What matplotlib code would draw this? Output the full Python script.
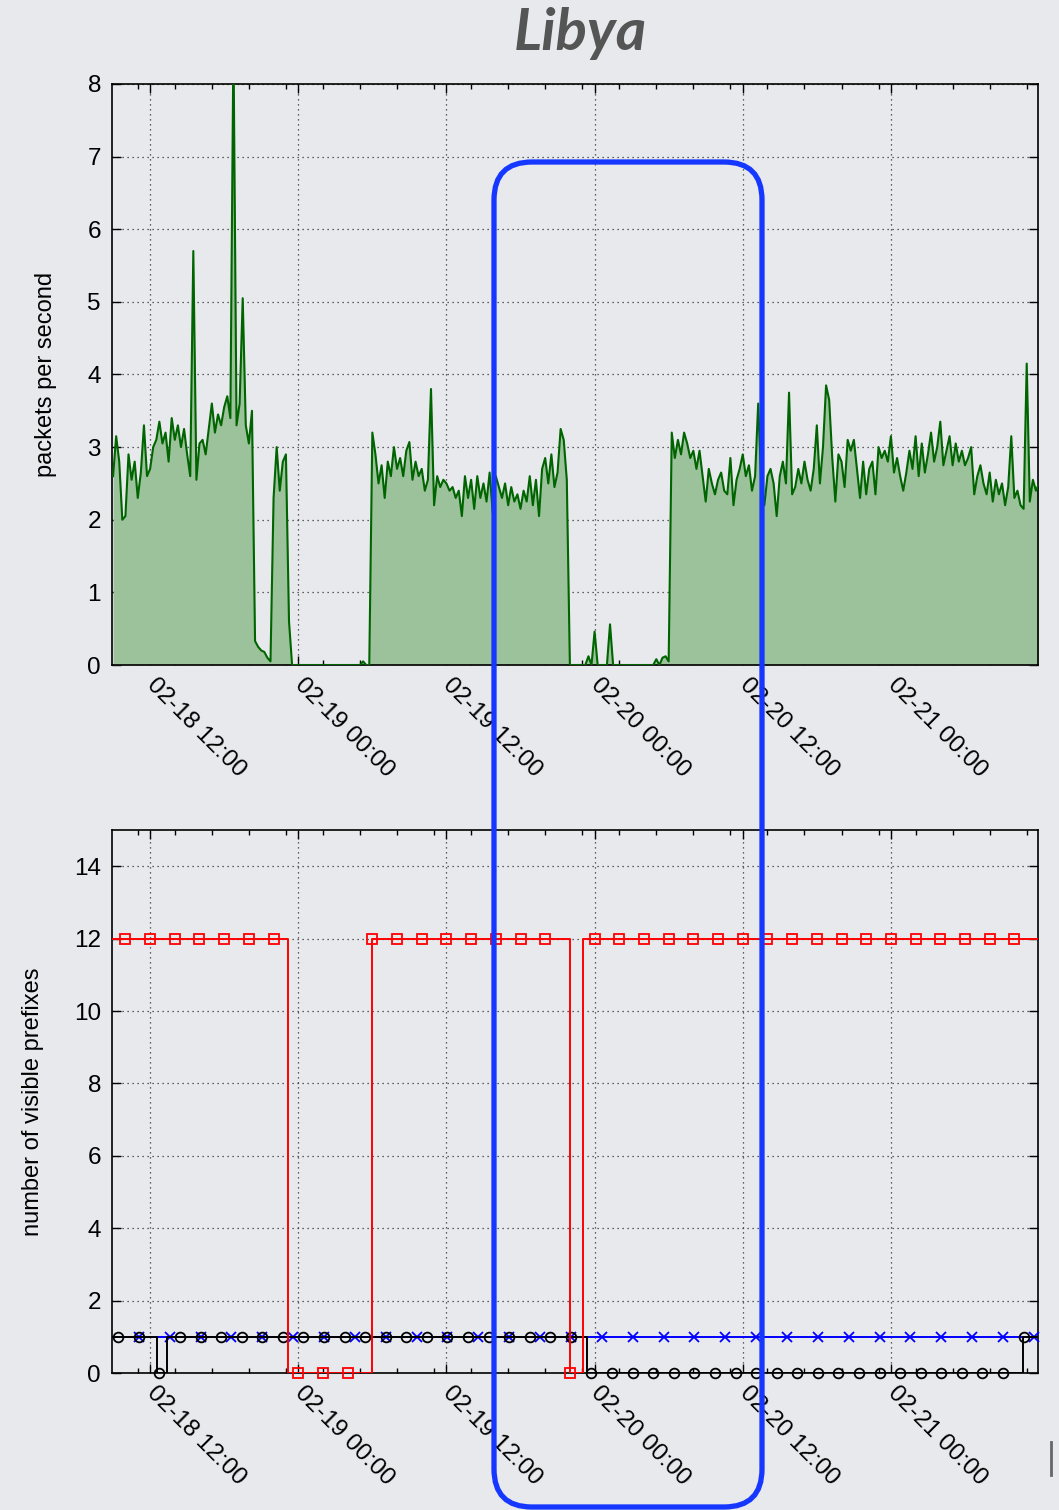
import numpy as np
import pandas as pd
import matplotlib
matplotlib.use('Agg')
import matplotlib.pyplot as plt
import matplotlib.dates as mdates
from matplotlib.patches import FancyBboxPatch
from matplotlib.lines import Line2D
from matplotlib.transforms import Affine2D

# --- packets per second, 15 minute samples, one list per period ---
PPS_FREQ = '15min'

pps_0218_day_start = '2011-02-18 09:00'
pps_0218_day = [2.6, 3.15, 2.8, 2.0, 2.05, 2.9, 2.55, 2.8, 2.3, 2.65,
                3.3, 2.6, 2.7, 3.0, 3.1, 3.35, 3.05, 3.2, 2.8, 3.4,
                3.1, 3.3, 3.0, 3.25, 2.9, 2.6, 5.7, 2.55, 3.05, 3.1,
                2.9, 3.25, 3.6, 3.2, 3.45, 3.3, 3.55, 3.7, 3.4, 8.6,
                3.3, 3.6, 5.05, 3.3, 3.05, 3.5]

pps_0218_evening_start = '2011-02-18 20:30'
pps_0218_evening = [0.33, 0.25, 0.2, 0.18, 0.1, 0.05, 2.3, 3.0, 2.4, 2.8,
                    2.9, 0.6, 0.0]

pps_0219_night_start = '2011-02-18 23:45'
pps_0219_night = [0.0, 0.0, 0.0, 0.0, 0.0, 0.0, 0.0, 0.0, 0.0, 0.0,
                  0.0, 0.0, 0.0, 0.0, 0.0, 0.0, 0.0, 0.0, 0.0, 0.0,
                  0.0, 0.0, 0.05, 0.0, 0.0]

pps_0219_day_start = '2011-02-19 06:00'
pps_0219_day = [3.2, 2.9, 2.5, 2.75, 2.3, 2.8, 2.6, 3.0, 2.7, 2.85,
                2.6, 2.95, 3.07, 2.55, 2.8, 2.6, 2.7, 2.4, 2.55, 3.8,
                2.2, 2.6, 2.45, 2.55, 2.5, 2.4, 2.45, 2.3, 2.4, 2.05,
                2.6, 2.3, 2.55, 2.15, 2.6, 2.3, 2.5, 2.25, 2.65, 2.1,
                2.6, 2.45, 2.3, 2.5, 2.2, 2.45, 2.25, 2.35, 2.15, 2.4,
                2.25, 2.6, 2.2, 2.55, 2.05, 2.7, 2.85, 2.5, 2.9, 2.45,
                2.65, 3.25, 3.1, 2.55]

pps_0220_night_start = '2011-02-19 22:00'
pps_0220_night = [0.0, 0.0, 0.0, 0.0, 0.0, 0.0, 0.12, 0.0, 0.46, 0.0,
                  0.0, 0.0, 0.0, 0.56, 0.0, 0.0, 0.0, 0.0, 0.0, 0.0,
                  0.0, 0.0, 0.0, 0.0, 0.0, 0.0, 0.0, 0.0, 0.08, 0.0,
                  0.1, 0.12, 0.05]

pps_0220_day_start = '2011-02-20 06:15'
pps_0220_day = [3.2, 2.85, 3.1, 2.9, 3.2, 3.05, 2.85, 2.95, 2.7, 2.95,
                2.6, 2.25, 2.7, 2.5, 2.35, 2.55, 2.65, 2.4, 2.35, 2.85,
                2.2, 2.55, 2.7, 2.9, 2.6, 2.75, 2.4, 2.6, 3.6, 2.5,
                2.2, 2.6, 2.7, 2.5, 2.05, 2.6, 2.8, 2.5, 3.75, 2.35,
                2.45, 2.7, 2.5, 2.8, 2.55, 2.4, 2.7, 3.3, 2.5, 3.0,
                3.85, 3.65, 2.85, 2.25, 2.9, 2.8, 2.45, 3.1, 2.95, 3.1,
                2.7, 2.3, 2.8, 2.35, 2.7, 2.8, 2.35, 3.0, 2.85, 2.95,
                2.8, 3.15, 2.65, 2.85, 2.6, 2.4, 2.65, 2.95, 2.7, 3.15,
                2.6, 3.05, 2.65, 2.9, 3.2, 2.8, 3.0, 3.35, 2.75, 2.95,
                3.15, 2.75, 3.05, 2.8, 2.95, 2.75, 2.85, 3.0, 2.35, 2.6,
                2.75, 2.5, 2.35, 2.65, 2.25, 2.55, 2.35, 2.5, 2.2, 2.45,
                3.15, 2.3, 2.4, 2.2, 2.15, 4.15, 2.25, 2.55, 2.4, 2.5]

# --- visible prefixes: level changes per series ---
x_start = '2011-02-18 08:55'
x_end = '2011-02-21 11:55'

red_change_times = ['2011-02-18 08:55', '2011-02-18 23:10', '2011-02-19 06:00',
                    '2011-02-19 22:00', '2011-02-19 23:05']
red_levels = [12, 0, 12, 0, 12]
red_marks_start = '2011-02-18 10:00'
red_marks_every = '120min'

black_change_times = ['2011-02-18 08:55', '2011-02-18 12:34', '2011-02-18 13:22',
                      '2011-02-19 23:21', '2011-02-21 10:40']
black_levels = [1, 0, 1, 0, 1]
black_marks_start = '2011-02-18 09:25'
black_marks_every = '100min'

blue_change_times = ['2011-02-18 08:55']
blue_levels = [1]
blue_marks_start = '2011-02-18 11:05'
blue_marks_every = '150min'

GRID = dict(color='#333333', linestyle=(0, (1, 3)), linewidth=0.9)


def pps_series():
    """Join the packet rate blocks into one time series"""
    blocks = [(pps_0218_day_start, pps_0218_day),
              (pps_0218_evening_start, pps_0218_evening),
              (pps_0219_night_start, pps_0219_night),
              (pps_0219_day_start, pps_0219_day),
              (pps_0220_night_start, pps_0220_night),
              (pps_0220_day_start, pps_0220_day)]
    times = []
    values = []
    for start, vals in blocks:
        times.extend(pd.date_range(start, periods=len(vals), freq=PPS_FREQ))
        values.extend(vals)
    return pd.DatetimeIndex(times), np.array(values)


def draw_steps(ax, change_times, levels, marks_start, marks_every,
               color, marker, msize, z):
    """Draw a stepped series plus its sparse markers"""
    changes = pd.DatetimeIndex(pd.to_datetime(change_times))
    edges = changes.append(pd.DatetimeIndex([pd.Timestamp(x_end)]))
    vals = list(levels) + [levels[-1]]
    ax.step(edges, vals, where='post', color=color, lw=1.4, zorder=z)

    marks = pd.date_range(marks_start, x_end, freq=marks_every)
    idx = changes.searchsorted(marks, side='right') - 1
    mark_vals = np.asarray(levels)[idx]
    ax.plot(marks, mark_vals, linestyle='none', marker=marker, ms=msize,
            mfc='none', mec=color, mew=1.3, clip_on=False, zorder=z + 0.5)


def style_axes(ax):
    """gnuplot-like frame, inward ticks and dotted grid"""
    ax.set_facecolor('none')
    for sp in ax.spines.values():
        sp.set_linewidth(1.2)
    ax.set_xlim(pd.Timestamp(x_start), pd.Timestamp(x_end))
    ax.xaxis.set_major_locator(mdates.HourLocator(byhour=[0, 12]))
    ax.xaxis.set_minor_locator(mdates.HourLocator(interval=3))
    ax.xaxis.set_major_formatter(mdates.DateFormatter('%m-%d %H:%M'))
    ax.tick_params(which='both', direction='in', top=True, right=True,
                   width=1.0)
    ax.tick_params(which='major', length=6.5, labelsize=17.5)
    ax.tick_params(which='minor', length=3.5)
    ax.tick_params(axis='x', which='major', pad=12)
    ax.tick_params(axis='y', pad=8)
    ax.grid(True, which='major', **GRID)
    for lbl in ax.get_xticklabels():
        lbl.set_rotation(-45)
        lbl.set_ha('left')
        lbl.set_va('center')
        lbl.set_rotation_mode('anchor')


def main():
    plt.rcParams['font.family'] = ['Liberation Sans', 'DejaVu Sans']
    fig = plt.figure(figsize=(10.59, 15.10), dpi=100, facecolor='#e8e9ed')

    # top: packets per second
    ax1 = fig.add_axes([0.1058, 0.5596, 0.8744, 0.3848])
    times, pps = pps_series()
    ax1.fill_between(times, pps, 0, color='#9bc29a', lw=0, zorder=2)
    ax1.plot(times, pps, color='#006400', lw=1.5, zorder=3)
    ax1.set_ylim(0, 8)
    ax1.set_yticks(range(0, 9))
    style_axes(ax1)
    ax1.set_ylabel('packets per second', fontsize=17)
    ax1.yaxis.set_label_coords(-0.059, 0.5)

    # bottom: visible prefixes
    ax2 = fig.add_axes([0.1058, 0.0907, 0.8744, 0.3596])
    draw_steps(ax2, blue_change_times, blue_levels, blue_marks_start,
               blue_marks_every, '#0000ff', 'x', 7, 3)
    draw_steps(ax2, black_change_times, black_levels, black_marks_start,
               black_marks_every, '#000000', 'o', 7, 4)
    draw_steps(ax2, red_change_times, red_levels, red_marks_start,
               red_marks_every, '#ff0000', 's', 7, 5)
    ax2.set_ylim(0, 15)
    ax2.set_yticks(range(0, 15, 2))
    style_axes(ax2)
    ax2.set_ylabel('number of visible prefixes', fontsize=17)
    ax2.yaxis.set_label_coords(-0.073, 0.5)

    fig.text(0.5477, 0.978, 'Libya', ha='center', va='center',
             fontsize=42, fontweight='bold', fontstyle='italic',
             color='#555555', family=['Lato', 'DejaVu Sans'])

    # blue highlight box over both panels, in pixel units
    px = Affine2D().scale(1 / 1059, 1 / 1510) + fig.transFigure
    box = FancyBboxPatch((494, 1510 - 1507), 762 - 494, 1507 - 162,
                         boxstyle='round,pad=0,rounding_size=38',
                         transform=px, fill=False, ec='#1537ff', lw=3.8,
                         zorder=10)
    fig.add_artist(box)
    fig.add_artist(Line2D([1051, 1051], [1510 - 1442, 1510 - 1475],
                          transform=px, color='#666666', lw=2))

    fig.savefig('out.png', dpi=100, facecolor=fig.get_facecolor())


if __name__ == "__main__":
    main()
